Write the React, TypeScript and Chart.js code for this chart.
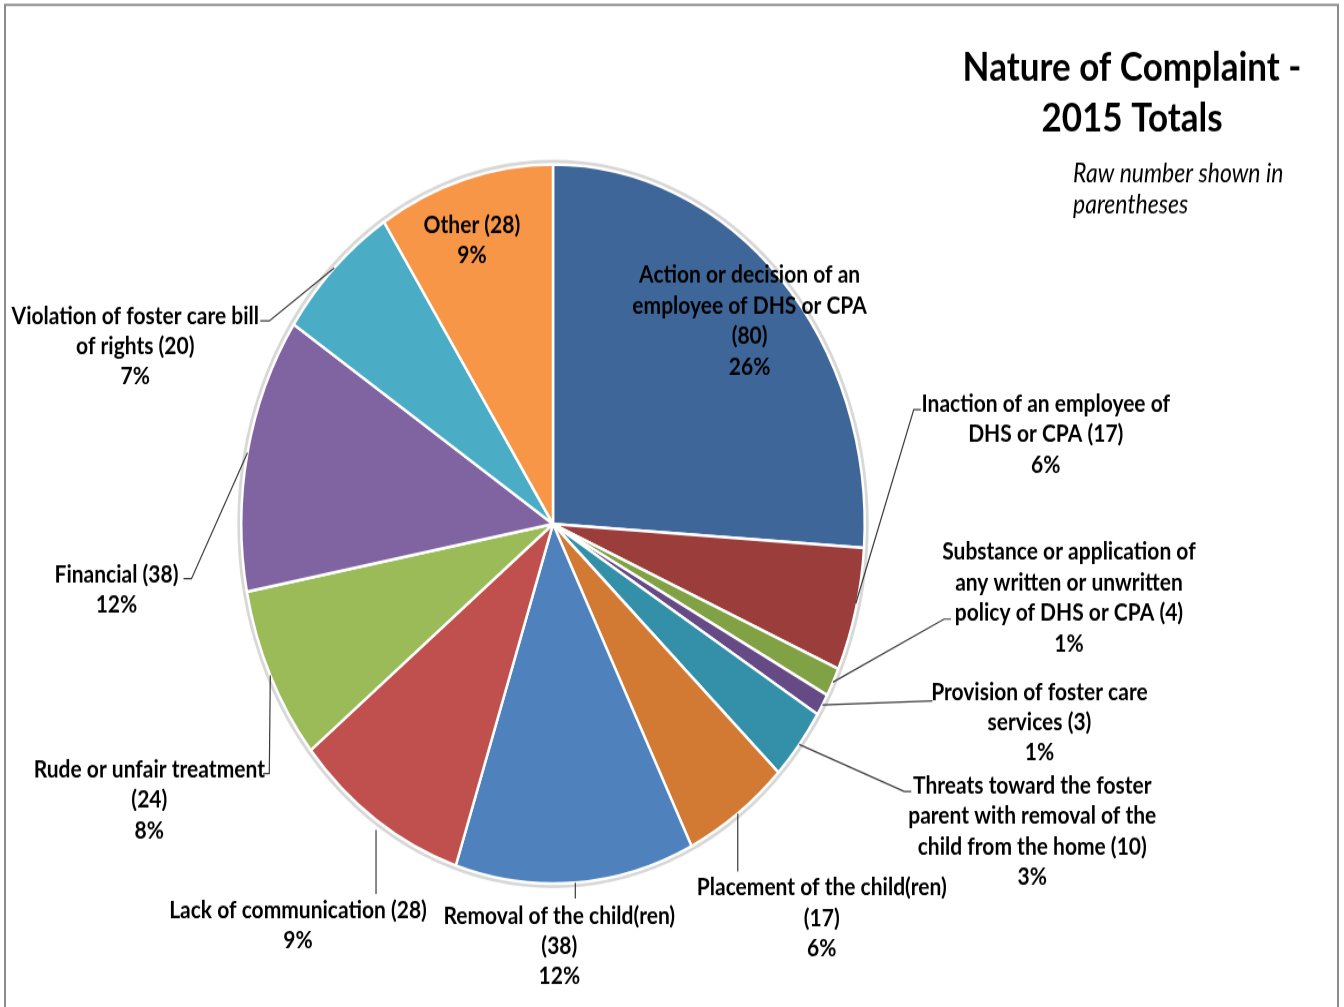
import React, { useEffect, useRef } from "react";
import { Chart, registerables } from "chart.js";

Chart.register(...registerables);

// ---------- data ----------
const categories = [
  "Action or decision of an employee of DHS or CPA",
  "Inaction of an employee of DHS or CPA",
  "Substance or application of any written or unwritten policy of DHS or CPA",
  "Provision of foster care services",
  "Threats toward the foster parent with removal of the child from the home",
  "Placement of the child(ren)",
  "Removal of the child(ren)",
  "Lack of communication",
  "Rude or unfair treatment",
  "Financial",
  "Violation of foster care bill of rights",
  "Other",
];
const counts = [80, 17, 4, 3, 10, 17, 38, 28, 24, 38, 20, 28];
const sliceColors = [
  "#3F6698",
  "#9A3D3B",
  "#80A144",
  "#654A86",
  "#3390A8",
  "#D27A33",
  "#4F81BD",
  "#C0504D",
  "#9BBB59",
  "#8064A2",
  "#4BACC6",
  "#F79646",
];
const labelWraps = [
  ["Action or decision of an", "employee of DHS or CPA", "({n})"],
  ["Inaction of an employee of", "DHS or CPA ({n})"],
  ["Substance or application of", "any written or unwritten", "policy of DHS or CPA ({n})"],
  ["Provision of foster care", "services ({n})"],
  ["Threats toward the foster", "parent with removal of the", "child from the home ({n})"],
  ["Placement of the child(ren)", "({n})"],
  ["Removal of the child(ren)", "({n})"],
  ["Lack of communication ({n})"],
  ["Rude or unfair treatment", "({n})"],
  ["Financial ({n})"],
  ["Violation of foster care bill", "of rights ({n})"],
  ["Other ({n})"],
];
const titleLines = ["Nature of Complaint -", "2015 Totals"];
const subtitleLines = ["Raw number shown in", "parentheses"];

// ---------- layout (styling only) ----------
const W = 1344;
const H_DISPLAY = 1007;
const H = 873; // internal canvas height, stretched vertically to H_DISPLAY
const SY = H_DISPLAY / H;

// label placement relative to the slice's outer mid-point (display px)
const placements: { text: [number, number]; leader: [number, number][] }[] = [
  { text: [-31, -3], leader: [] },
  { text: [190, -206], leader: [[0, -6], [58, -200], [65, -200]] },
  { text: [236, -130], leader: [[0, 0], [111, -63], [118, -63]] },
  { text: [217, -13], leader: [[0, 0], [110, -4]] },
  { text: [233, 41], leader: [[0, 0], [105, 47], [112, 47]] },
  { text: [84, 74], leader: [[0, 0], [0, 58]] },
  { text: [-16, 33], leader: [[0, 0], [0, 16]] },
  { text: [-78, 90], leader: [[0, 10], [0, 74]] },
  { text: [-121, 94], leader: [[0, 0], [-1, 98], [-7, 98]] },
  { text: [-131, 122], leader: [[0, 0], [-56, 126], [-64, 126]] },
  { text: [-199, 48], leader: [[0, 0], [-65, 53], [-74, 53]] },
  { text: [7, 46], leader: [] },
];

const FONT = '"Lato", "Open Sans", sans-serif';
const LINE_H = 30.5 / SY;

export default function App() {
  const canvasRef = useRef<HTMLCanvasElement | null>(null);

  useEffect(() => {
    document.body.style.margin = "0";
    document.body.style.overflow = "hidden";
    const canvas = canvasRef.current;
    if (!canvas) return;
    const total = counts.reduce((a, b) => a + b, 0);

    const overlay = {
      id: "overlay",
      beforeDraw(chart: any) {
        const ctx = chart.ctx;
        ctx.save();
        ctx.fillStyle = "#ffffff";
        ctx.fillRect(0, 0, chart.width, chart.height);
        ctx.strokeStyle = "#8c8c8c";
        ctx.lineWidth = 2;
        ctx.beginPath();
        ctx.moveTo(5, H + 10);
        ctx.lineTo(5, 5 / SY);
        ctx.lineTo(1338, 5 / SY);
        ctx.lineTo(1338, H + 10);
        ctx.stroke();

        // title
        ctx.fillStyle = "#000000";
        ctx.textAlign = "center";
        ctx.textBaseline = "middle";
        ctx.font = `bold 35px ${FONT}`;
        ctx.fillText(titleLines[0], 1132, 68 / SY);
        ctx.fillText(titleLines[1], 1132, 119 / SY);
        ctx.font = `italic 23px ${FONT}`;
        ctx.textAlign = "left";
        ctx.fillText(subtitleLines[0], 1073, 174 / SY);
        ctx.fillText(subtitleLines[1], 1073, 205 / SY);
        ctx.restore();
      },
      beforeDatasetsDraw(chart: any) {
        const meta = chart.getDatasetMeta(0);
        const arc = meta.data[0];
        if (!arc) return;
        const ctx = chart.ctx;
        ctx.save();
        ctx.strokeStyle = "#d8d8d8";
        ctx.lineWidth = 4;
        ctx.beginPath();
        ctx.arc(arc.x, arc.y, arc.outerRadius + 2, 0, Math.PI * 2);
        ctx.stroke();
        ctx.restore();
      },
      afterDatasetsDraw(chart: any) {
        const meta = chart.getDatasetMeta(0);
        const ctx = chart.ctx;
        ctx.save();
        meta.data.forEach((el: any, i: number) => {
          const mid = (el.startAngle + el.endAngle) / 2;
          const ax = el.x + el.outerRadius * Math.cos(mid);
          const ay = el.y + el.outerRadius * Math.sin(mid);
          const p = placements[i];
          if (p.leader.length > 1) {
            ctx.strokeStyle = "#3a3a3a";
            ctx.lineWidth = 1.2;
            ctx.beginPath();
            p.leader.forEach(([dx, dy], k) => {
              const x = ax + dx;
              const y = ay + dy / SY;
              if (k === 0) ctx.moveTo(x, y);
              else ctx.lineTo(x, y);
            });
            ctx.stroke();
          }
          const lines = labelWraps[i].map((s) => s.replace("{n}", String(counts[i])));
          lines.push(`${Math.round((counts[i] / total) * 100)}%`);
          ctx.fillStyle = "#000000";
          ctx.font = `bold 21px ${FONT}`;
          ctx.textAlign = "center";
          ctx.textBaseline = "middle";
          const tx = ax + p.text[0];
          const ty = ay + p.text[1] / SY;
          lines.forEach((line, k) => {
            ctx.fillText(line, tx, ty + k * LINE_H);
          });
        });
        ctx.restore();
      },
    };

    const chart = new Chart(canvas, {
      type: "pie",
      data: {
        labels: categories,
        datasets: [
          {
            data: counts,
            backgroundColor: sliceColors,
            borderColor: "#ffffff",
            borderWidth: 2.5,
          },
        ],
      },
      options: {
        responsive: false,
        animation: false,
        events: [],
        layout: {
          padding: {
            left: 240,
            right: W - 866,
            top: 163 / SY,
            bottom: H - 885 / SY,
          },
        },
        plugins: {
          legend: { display: false },
          tooltip: { enabled: false },
          title: { display: false },
        },
      },
      plugins: [overlay],
    });
    return () => chart.destroy();
  }, []);

  return (
    <canvas
      ref={canvasRef}
      width={W}
      height={H}
      style={{ width: `${W}px`, height: `${H_DISPLAY}px`, display: "block" }}
    />
  );
}
